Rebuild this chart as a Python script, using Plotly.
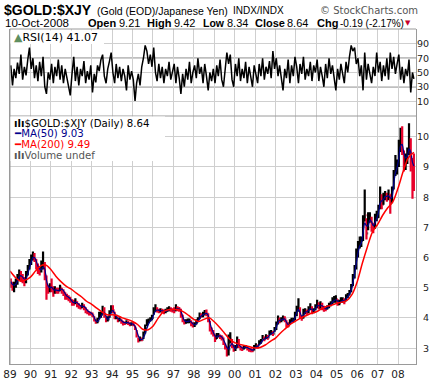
import pandas as pd
import plotly.graph_objects as go

# ---------------- data ----------------
SYMBOL = "$GOLD:$XJY"
DESC = "(Gold (EOD)/Japanese Yen)"
EXCH = "INDX/INDX"
LAST_DATE = "2008-10-10"
HDR_DATE = "10-Oct-2008"
HDR_OPEN, HDR_HIGH, HDR_LOW, HDR_CLOSE = 9.21, 9.42, 8.34, 8.64
HDR_CHG, HDR_PCT = -0.19, -2.17
RSI_LAST, MA50_LAST, MA200_LAST = 41.07, 9.03, 9.49

year_ticks = list(range(1989, 2009))
year_labels = ["89", "90", "91", "92", "93", "94", "95", "96", "97", "98", "99",
               "00", "01", "02", "03", "04", "05", "06", "07", "08"]
price_ticks = [3, 4, 5, 6, 7, 8, 9, 10]
rsi_ticks = [10, 30, 50, 70, 90]
rsi_levels = [30, 50, 70]

# monthly bars, Jan 1989 .. Oct 2008
close = [
    5.15, 5.05, 5.1, 5.15, 5.35, 5.45, 5.35, 5.3, 5.2, 5.45, 5.65, 5.8,
    6.0, 6.1, 5.95, 5.75, 5.6, 5.55, 5.65, 5.8, 5.4, 4.95, 4.95, 5.05,
    5.0, 4.85, 4.95, 4.9, 4.9, 5.0, 4.9, 4.85, 4.7, 4.7, 4.65, 4.6,
    4.5, 4.5, 4.55, 4.45, 4.4, 4.35, 4.4, 4.35, 4.25, 4.2, 4.15, 4.15,
    4.08, 3.92, 3.85, 3.9, 4.1, 4.1, 4.28, 4.12, 3.92, 3.95, 4.15, 4.3,
    4.25, 4.0, 4.02, 3.92, 3.95, 3.88, 3.82, 3.82, 3.86, 3.82, 3.78, 3.8,
    3.78, 3.65, 3.4, 3.25, 3.3, 3.28, 3.45, 3.65, 3.85, 3.9, 3.95, 4.0,
    4.25, 4.3, 4.25, 4.22, 4.25, 4.22, 4.2, 4.22, 4.28, 4.3, 4.28, 4.25,
    4.25, 4.32, 4.3, 4.28, 4.1, 3.92, 3.85, 3.88, 3.9, 3.9, 3.8, 3.75,
    3.78, 3.85, 3.95, 4.1, 4.08, 4.12, 4.18, 4.15, 3.95, 3.65, 3.55, 3.45,
    3.3, 3.4, 3.42, 3.38, 3.35, 3.15, 3.05, 2.92, 2.95, 3.3, 3.1, 2.95,
    3.0, 3.25, 3.05, 2.98, 2.98, 3.05, 3.05, 2.98, 2.95, 2.93, 2.92, 3.05,
    3.08, 3.05, 3.18, 3.22, 3.35, 3.3, 3.38, 3.35, 3.5, 3.52, 3.48, 3.62,
    3.8, 3.98, 3.9, 3.95, 3.98, 3.95, 3.75, 3.75, 3.88, 3.92, 3.92, 4.1,
    4.3, 4.3, 4.05, 4.0, 4.2, 4.22, 4.18, 4.3, 4.35, 4.2, 4.25, 4.38,
    4.45, 4.35, 4.45, 4.35, 4.3, 4.3, 4.35, 4.42, 4.48, 4.58, 4.6, 4.62,
    4.48, 4.5, 4.58, 4.6, 4.55, 4.7, 4.75, 4.85, 5.05, 5.35, 5.65, 6.05,
    6.35, 6.45, 6.55, 7.2, 7.4, 6.8, 7.3, 7.3, 7.0, 7.0, 7.35, 7.38,
    7.65, 8.05, 7.75, 8.05, 8.05, 8.0, 8.1, 7.8, 8.25, 8.75, 8.95, 9.05,
    9.6, 10.0, 9.55, 9.2, 9.3, 9.45, 9.9, 9.2, 8.9, 8.64,
]
high = [
    5.3, 5.2, 5.2, 5.3, 5.45, 5.6, 5.55, 5.45, 5.35, 5.55, 5.75, 5.95,
    6.1, 6.2, 6.15, 5.95, 5.8, 5.7, 5.9, 6.2, 5.85, 5.4, 5.1, 5.15,
    5.3, 5.05, 5.05, 5.0, 5.0, 5.1, 5.0, 4.95, 4.85, 4.8, 4.75, 4.7,
    4.62, 4.6, 4.65, 4.55, 4.48, 4.42, 4.5, 4.45, 4.35, 4.28, 4.22, 4.2,
    4.18, 4.05, 3.95, 4.0, 4.2, 4.2, 4.4, 4.35, 4.05, 4.05, 4.25, 4.42,
    4.42, 4.2, 4.1, 4.0, 4.02, 3.95, 3.9, 3.88, 3.92, 3.9, 3.85, 3.85,
    3.85, 3.75, 3.6, 3.35, 3.38, 3.35, 3.55, 3.78, 3.95, 3.98, 4.02, 4.1,
    4.35, 4.45, 4.35, 4.3, 4.32, 4.3, 4.28, 4.3, 4.35, 4.38, 4.35, 4.32,
    4.35, 4.45, 4.38, 4.36, 4.3, 4.1, 3.95, 3.95, 3.98, 3.98, 3.92, 3.85,
    3.85, 3.95, 4.02, 4.18, 4.15, 4.2, 4.26, 4.28, 4.15, 3.9, 3.68, 3.6,
    3.45, 3.5, 3.5, 3.45, 3.42, 3.35, 3.15, 3.05, 3.45, 3.52, 3.3, 3.1,
    3.1, 3.38, 3.3, 3.08, 3.05, 3.1, 3.1, 3.06, 3.02, 3.0, 2.98, 3.1,
    3.16, 3.12, 3.26, 3.3, 3.43, 3.38, 3.46, 3.43, 3.58, 3.6, 3.56, 3.7,
    3.88, 4.08, 4.0, 4.02, 4.08, 4.05, 3.92, 3.85, 3.95, 4.0, 4.0, 4.2,
    4.4, 4.65, 4.35, 4.08, 4.3, 4.32, 4.28, 4.38, 4.48, 4.38, 4.32, 4.45,
    4.6, 4.52, 4.55, 4.5, 4.4, 4.38, 4.42, 4.5, 4.55, 4.68, 4.72, 4.75,
    4.62, 4.6, 4.68, 4.68, 4.65, 4.78, 4.82, 4.92, 5.12, 5.45, 5.75, 6.3,
    6.55, 6.7, 6.7, 7.4, 8.25, 7.3, 7.5, 7.5, 7.35, 7.15, 7.45, 7.55,
    7.75, 8.35, 8.1, 8.15, 8.2, 8.15, 8.25, 8.1, 8.35, 8.9, 9.4, 9.25,
    9.9, 10.3, 10.35, 9.55, 9.45, 9.65, 10.45, 9.95, 9.3, 9.45,
]
low = [
    5.0, 4.9, 4.85, 5.0, 5.1, 5.25, 5.2, 5.15, 5.05, 5.15, 5.4, 5.6,
    5.75, 5.9, 5.85, 5.6, 5.45, 5.4, 5.5, 5.6, 5.25, 4.6, 4.8, 4.85,
    4.85, 4.7, 4.8, 4.8, 4.8, 4.88, 4.8, 4.72, 4.6, 4.6, 4.55, 4.5,
    4.4, 4.4, 4.45, 4.35, 4.3, 4.28, 4.32, 4.25, 4.15, 4.12, 4.08, 4.08,
    4.02, 3.88, 3.8, 3.82, 3.95, 4.0, 4.1, 4.0, 3.85, 3.88, 4.0, 4.15,
    4.15, 3.95, 3.95, 3.85, 3.88, 3.8, 3.75, 3.76, 3.8, 3.76, 3.72, 3.74,
    3.72, 3.6, 3.35, 3.18, 3.22, 3.22, 3.3, 3.48, 3.72, 3.82, 3.88, 3.92,
    4.1, 4.2, 4.18, 4.15, 4.18, 4.15, 4.12, 4.15, 4.2, 4.22, 4.2, 4.18,
    4.15, 4.22, 4.22, 4.2, 4.0, 3.85, 3.78, 3.8, 3.82, 3.82, 3.72, 3.68,
    3.7, 3.78, 3.85, 3.95, 4.0, 4.02, 4.08, 4.05, 3.85, 3.55, 3.45, 3.38,
    3.2, 3.3, 3.35, 3.3, 3.25, 3.1, 2.95, 2.72, 2.75, 3.15, 3.0, 2.88,
    2.9, 3.0, 3.0, 2.92, 2.9, 2.95, 2.98, 2.92, 2.88, 2.86, 2.86, 2.92,
    3.0, 2.98, 3.1, 3.14, 3.27, 3.22, 3.3, 3.27, 3.42, 3.44, 3.4, 3.54,
    3.6, 3.78, 3.82, 3.85, 3.9, 3.85, 3.68, 3.68, 3.78, 3.85, 3.85, 3.92,
    4.05, 4.2, 3.98, 3.9, 3.98, 4.12, 4.1, 4.15, 4.25, 4.12, 4.15, 4.25,
    4.32, 4.28, 4.3, 4.25, 4.2, 4.22, 4.28, 4.32, 4.38, 4.45, 4.5, 4.5,
    4.4, 4.42, 4.5, 4.5, 4.45, 4.55, 4.65, 4.75, 4.85, 5.05, 5.3, 5.6,
    6.0, 6.3, 6.35, 6.55, 7.2, 6.6, 6.9, 7.15, 6.85, 6.8, 6.95, 7.2,
    7.3, 7.6, 7.6, 7.75, 7.9, 7.85, 7.9, 7.45, 7.8, 8.25, 8.7, 8.75,
    9.0, 9.5, 9.4, 8.85, 8.9, 9.1, 9.4, 8.85, 7.95, 8.2,
]
ma50 = [
    5.2, 5.1, 5.08, 5.12, 5.22, 5.35, 5.4, 5.35, 5.28, 5.3, 5.45, 5.65,
    5.85, 6.0, 6.0, 5.88, 5.72, 5.62, 5.6, 5.68, 5.62, 5.25, 5.05, 5.0,
    5.02, 4.95, 4.92, 4.92, 4.9, 4.93, 4.95, 4.9, 4.8, 4.72, 4.68, 4.63,
    4.55, 4.5, 4.52, 4.5, 4.45, 4.4, 4.38, 4.38, 4.32, 4.25, 4.2, 4.17,
    4.12, 4.02, 3.9, 3.88, 3.95, 4.05, 4.15, 4.18, 4.05, 3.95, 4.02, 4.18,
    4.25, 4.15, 4.05, 3.98, 3.95, 3.92, 3.86, 3.84, 3.84, 3.84, 3.81, 3.8,
    3.79, 3.72, 3.58, 3.4, 3.3, 3.28, 3.34, 3.48, 3.65, 3.8, 3.9, 3.95,
    4.1, 4.22, 4.26, 4.25, 4.24, 4.23, 4.22, 4.21, 4.24, 4.27, 4.29, 4.27,
    4.26, 4.28, 4.3, 4.29, 4.22, 4.05, 3.92, 3.88, 3.88, 3.9, 3.86, 3.8,
    3.77, 3.8, 3.88, 3.98, 4.06, 4.1, 4.13, 4.15, 4.08, 3.85, 3.65, 3.52,
    3.4, 3.36, 3.4, 3.4, 3.37, 3.28, 3.15, 3.02, 2.96, 3.08, 3.15, 3.05,
    2.98, 3.1, 3.12, 3.05, 3.0, 3.0, 3.03, 3.02, 2.98, 2.95, 2.93, 2.97,
    3.03, 3.06, 3.1, 3.17, 3.25, 3.3, 3.33, 3.35, 3.42, 3.48, 3.5, 3.55,
    3.68, 3.85, 3.92, 3.93, 3.96, 3.96, 3.86, 3.78, 3.8, 3.87, 3.9, 4.0,
    4.18, 4.28, 4.18, 4.05, 4.08, 4.18, 4.2, 4.24, 4.3, 4.28, 4.24, 4.3,
    4.4, 4.4, 4.4, 4.4, 4.35, 4.3, 4.32, 4.37, 4.43, 4.52, 4.57, 4.6,
    4.56, 4.5, 4.53, 4.57, 4.58, 4.62, 4.7, 4.78, 4.92, 5.15, 5.45, 5.8,
    6.15, 6.38, 6.48, 6.8, 7.15, 7.05, 7.05, 7.25, 7.18, 7.05, 7.15, 7.3,
    7.48, 7.8, 7.88, 7.92, 8.02, 8.03, 8.05, 7.97, 8.0, 8.45, 8.8, 8.98,
    9.3, 9.7, 9.75, 9.45, 9.3, 9.35, 9.6, 9.5, 9.15, 9.03,
]
rsi = [
    60, 32, 55, 42, 64, 48, 75, 40, 58, 46, 68, 85,
    55, 70, 42, 60, 38, 65, 45, 72, 30, 20, 50, 40,
    62, 35, 58, 45, 68, 40, 60, 35, 55, 42, 30, 18,
    48, 72, 38, 58, 32, 55, 45, 66, 35, 52, 40, 60,
    22, 48, 36, 60, 52, 68, 75, 45, 35, 55, 66, 78,
    50, 35, 62, 42, 58, 38, 55, 45, 25, 60, 40, 52,
    40, 10, 35, 48, 32, 58, 70, 88, 80, 62, 75, 58,
    85, 50, 38, 62, 42, 58, 35, 55, 45, 65, 40, 52,
    62, 35, 58, 42, 20, 48, 30, 55, 40, 65, 35, 50,
    60, 42, 70, 48, 58, 35, 62, 45, 25, 50, 38, 55,
    35, 60, 45, 68, 40, 30, 55, 78, 62, 75, 40, 30,
    62, 45, 70, 38, 55, 42, 65, 35, 58, 45, 30, 60,
    48, 35, 62, 45, 70, 40, 58, 48, 66, 42, 80, 55,
    70, 45, 60, 38, 25, 55, 42, 68, 35, 60, 45, 72,
    58, 35, 62, 48, 72, 40, 55, 45, 65, 38, 60, 50,
    68, 38, 58, 45, 30, 62, 42, 70, 48, 60, 42, 25,
    55, 40, 62, 45, 35, 65, 50, 72, 88, 80, 85, 62,
    70, 45, 60, 25, 78, 40, 62, 48, 35, 58, 45, 78,
    50, 65, 38, 60, 45, 70, 40, 78, 55, 72, 48, 62,
    75, 40, 58, 35, 55, 45, 68, 22, 50, 41.07,
]
# MA(200), one reading per quarter (Jan/Apr/Jul/Oct), last one at LAST_DATE
ma200 = [
    5.55, 5.35, 5.22, 5.25,
    5.35, 5.55, 5.72, 5.75,
    5.6, 5.38, 5.2, 5.05,
    4.95, 4.82, 4.7, 4.55,
    4.45, 4.32, 4.2, 4.1,
    4.1, 4.08, 4.0, 3.95,
    3.88, 3.78, 3.62, 3.6,
    3.72, 3.98, 4.2, 4.27,
    4.28, 4.27, 4.2, 4.08,
    3.95, 3.88, 3.95, 4.0,
    3.87, 3.7, 3.5, 3.3,
    3.18, 3.12, 3.08, 3.04,
    3.0, 3.02, 3.1, 3.22,
    3.33, 3.5, 3.65, 3.8,
    3.9, 4.0, 4.07, 4.15,
    4.2, 4.3, 4.38, 4.42,
    4.48, 4.52, 4.58, 4.78,
    5.2, 5.8, 6.35, 6.85,
    7.1, 7.4, 7.65, 7.85,
    8.3, 8.85, 9.3, 9.49,
]

# ---------------- dates ----------------
n = len(close)
mdates = list(pd.date_range("1989-01-01", periods=n, freq="MS") + pd.Timedelta(days=14))
mdates[-1] = pd.Timestamp(LAST_DATE)
qdates = list(pd.date_range("1989-01-01", periods=len(ma200), freq="QS"))
qdates[-1] = pd.Timestamp(LAST_DATE)
opens = [close[0] + 0.05] + close[:-1]

# ---------------- geometry helpers ----------------
W, H = 441, 379
ML, MR, MT, MB = 10, 25, 29, 15
PW, PH = W - ML - MR, H - MT - MB
SPLIT = 116  # px where RSI panel ends / price panel begins
split_frac = (H - MB - SPLIT) / PH


def fx(px):
    return (px - ML) / PW


def fy(py):
    return (H - MB - py) / PH


GRID = "#cfcfcf"
BORDER = "#9a9a9a"

fig = go.Figure()

fig.add_trace(go.Ohlc(
    x=mdates, open=opens, high=high, low=low, close=close,
    increasing=dict(line=dict(color="black", width=2.2)),
    decreasing=dict(line=dict(color="#e8002a", width=2.2)),
    tickwidth=0.4, xaxis="x", yaxis="y", showlegend=False, hoverinfo="skip",
))
fig.add_trace(go.Scatter(
    x=mdates, y=ma50, mode="lines", line=dict(color="#00008c", width=1.2, shape="spline", smoothing=0.6),
    xaxis="x", yaxis="y", showlegend=False, hoverinfo="skip",
))
fig.add_trace(go.Scatter(
    x=qdates, y=ma200, mode="lines", line=dict(color="#ff0000", width=1.5, shape="spline", smoothing=0.8),
    xaxis="x", yaxis="y", showlegend=False, hoverinfo="skip",
))
fig.add_trace(go.Scatter(
    x=mdates, y=rsi, mode="lines", line=dict(color="black", width=1.5),
    xaxis="x", yaxis="y2", showlegend=False, hoverinfo="skip",
))

# RSI reference lines
for lv in rsi_levels:
    fig.add_shape(type="line", xref="paper", yref="y2", x0=0, x1=1, y0=lv, y1=lv,
                  line=dict(color="#808080" if lv != 50 else "#a8a8a8", width=1.6 if lv != 50 else 1),
                  layer="below")

xr = ["1989-01-01", "2008-11-17"]
fig.update_layout(
    width=W, height=H, margin=dict(l=ML, r=MR, t=MT, b=MB, autoexpand=False),
    paper_bgcolor="white", plot_bgcolor="white",
    xaxis=dict(type="date", range=xr, anchor="y",
               tickvals=[f"{y}-01-01" for y in year_ticks], ticktext=year_labels,
               showgrid=True, gridcolor=GRID, gridwidth=1,
               showline=True, linecolor=BORDER, mirror=False, ticks="",
               tickfont=dict(family="DejaVu Sans", size=10.5, color="#222"),
               rangeslider=dict(visible=False), zeroline=False, fixedrange=True),
    yaxis=dict(domain=[0, split_frac], range=[2.47, 10.69], side="right",
               tickvals=price_ticks, showticklabels=False,
               showgrid=True, gridcolor=GRID, zeroline=False,
               showline=True, linecolor=BORDER, mirror=True, ticks=""),
    yaxis2=dict(domain=[split_frac, 1], range=[-11, 111], side="right", anchor="x",
                tickvals=rsi_ticks, showticklabels=False,
                showgrid=True, gridcolor=GRID, zeroline=False,
                showline=True, linecolor=BORDER, mirror=True, ticks=""),
)
# panel borders
fig.add_shape(type="line", xref="paper", yref="paper", x0=0, x1=0, y0=0, y1=1,
              line=dict(color=BORDER, width=1))
fig.add_shape(type="line", xref="paper", yref="paper", x0=0, x1=1, y0=1, y1=1,
              line=dict(color=BORDER, width=1))
fig.add_shape(type="line", xref="paper", yref="paper", x0=0, x1=1, y0=split_frac, y1=split_frac,
              line=dict(color=BORDER, width=1))
# white backing for the panel legends
fig.add_shape(type="rect", xref="paper", yref="paper", x0=fx(10.5), x1=fx(104), y0=fy(44), y1=fy(30.5),
              fillcolor="white", line=dict(width=0), layer="above")
fig.add_shape(type="rect", xref="paper", yref="paper", x0=fx(10.5), x1=fx(165), y0=fy(161), y1=fy(116.5),
              fillcolor="white", line=dict(width=0), layer="above")

ann = []


def txt(px, py, s, size=11, color="black", family="Liberation Sans", anchor="left"):
    ann.append(dict(x=fx(px), y=fy(py), xref="paper", yref="paper", text=s, showarrow=False,
                    xanchor=anchor, yanchor="middle", font=dict(family=family, size=size, color=color)))


# header
txt(2, 10, f"<b>{SYMBOL}</b>", size=14)
txt(95, 11, DESC, size=10.5)
txt(231, 11, EXCH, size=10)
txt(318, 11, "© StockCharts.com", size=10, color="#555555", family="DejaVu Sans")
txt(3, 23, HDR_DATE, size=11.5)
txt(86, 23, "<b>Open</b>", size=11)
txt(117, 23, f"{HDR_OPEN:.2f}", size=11)
txt(145, 23, "<b>High</b>", size=11)
txt(172, 23, f"{HDR_HIGH:.2f}", size=11)
txt(201, 23, "<b>Low</b>", size=10.5)
txt(225, 23, f"{HDR_LOW:.2f}", size=11)
txt(253, 23, "<b>Close</b>", size=11)
txt(285, 23, f"{HDR_CLOSE:.2f}", size=11)
txt(315, 23, "<b>Chg</b>", size=11)
txt(338, 23, f"{HDR_CHG:.2f} ({HDR_PCT:.2f}%)", size=10)
txt(403, 23, "▼", size=7, color="#c8002a", family="DejaVu Sans")

# panel legends
txt(12, 37, "<span style='color:#5f8f5f'>▲</span>RSI(14) " + f"{RSI_LAST:.2f}", size=11,
    family="DejaVu Sans")
txt(12, 123, f"<b>ılı</b>{SYMBOL} (Daily) {HDR_CLOSE:.2f}", size=10.2, family="DejaVu Sans")
txt(12, 133.6, f"<b>━</b>MA(50) {MA50_LAST:.2f}", size=10.2, color="#00008c", family="DejaVu Sans")
txt(12, 144.3, f"<b>━</b>MA(200) {MA200_LAST:.2f}", size=10.2, color="#ff0000", family="DejaVu Sans")
txt(12, 155, "<b>ılı</b>Volume undef", size=10.2, color="#555555", family="DejaVu Sans")

# right-hand axis labels
for v in price_ticks:
    ann.append(dict(x=fx(431), y=v, xref="paper", yref="y", text=str(v), showarrow=False,
                    xanchor="right", yanchor="middle",
                    font=dict(family="DejaVu Sans", size=9.5, color="#222")))
for v in rsi_ticks:
    ann.append(dict(x=fx(431), y=v, xref="paper", yref="y2", text=str(v), showarrow=False,
                    xanchor="right", yanchor="middle",
                    font=dict(family="DejaVu Sans", size=9.5, color="#222")))

fig.update_layout(annotations=ann)
fig.write_html("out.html", config={"displayModeBar": False, "staticPlot": True},
               post_script="document.body.style.margin='0';document.body.style.padding='0';"
                           "document.documentElement.style.overflow='hidden';")
